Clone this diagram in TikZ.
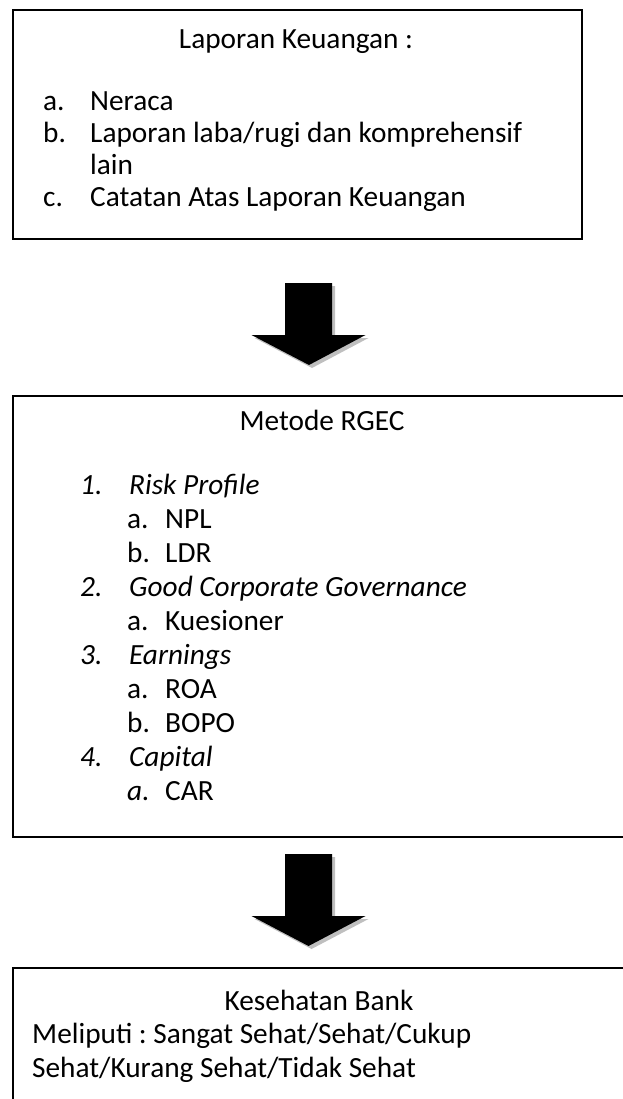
\documentclass[tikz,border=0pt]{standalone}
\usepackage{fontspec}
\setmainfont{Carlito}
\usetikzlibrary{calc,shadows}
\frenchspacing

\newcommand{\blokpanah}[2]{%
  \path[panah] let \p1=(#1), \p2=(#2) in
    (\x1-23.5pt,\y1) -- (\x1+23.5pt,\y1) -- (\x1+23.5pt,\y2+30pt)
    -- (\x1+57pt,\y2+30pt) -- (\x2,\y2) -- (\x1-57pt,\y2+30pt)
    -- (\x1-23.5pt,\y2+30pt) -- cycle;}

\begin{document}
\begin{tikzpicture}[x=1pt,y=-1pt,
    kotak/.style={draw, line width=1.6pt, anchor=north west, inner sep=0pt},
    teks/.style={anchor=base west, inner sep=0pt, font=\fontsize{29.3}{34}\selectfont},
    judul/.style={teks, anchor=base},
    panah/.style={fill=black, drop shadow={shadow xshift=3pt, shadow yshift=-3pt, fill=gray!50, opacity=1}}]
  \useasboundingbox (0,0) rectangle (622,1099);

  % kotak laporan keuangan
  \node[kotak, minimum width=569pt, minimum height=229pt] (lapkeu) at (12,9) {};
  \node[judul] (lapjudul) at (296,49) {Laporan Keuangan :};
  \node[teks] (la) at (43,111) {a.};
  \node[teks] (lat) at (90,111) {Neraca};
  \node[teks] (lb) at (43,143) {b.};
  \node[teks] (lbt) at (90,143) {Laporan laba/rugi dan komprehensif};
  \node[teks] (lbt2) at (90,175) {lain};
  \node[teks] (lc) at (43,207) {c.};
  \node[teks] (lct) at (90,207) {Catatan Atas Laporan Keuangan};

  % kotak metode RGEC
  \node[kotak, minimum width=640pt, minimum height=441pt] (rgec) at (12,395) {};
  \node[judul] (rgecjudul) at (322,430) {Metode RGEC};
  \node[teks] (r1) at (80,494) {\itshape 1.};
  \node[teks] (r1t) at (129,494) {\itshape Risk Profile};
  \node[teks] (r1a) at (127,528) {a.};
  \node[teks] (r1at) at (165,528) {NPL};
  \node[teks] (r1b) at (127,562) {b.};
  \node[teks] (r1bt) at (165,562) {LDR};
  \node[teks] (r2) at (80,596) {\itshape 2.};
  \node[teks] (r2t) at (129,596) {\itshape Good Corporate Governance};
  \node[teks] (r2a) at (127,630) {a.};
  \node[teks] (r2at) at (165,630) {Kuesioner};
  \node[teks] (r3) at (80,664) {\itshape 3.};
  \node[teks] (r3t) at (129,664) {\itshape Earnings};
  \node[teks] (r3a) at (127,698) {a.};
  \node[teks] (r3at) at (165,698) {ROA};
  \node[teks] (r3b) at (127,732) {b.};
  \node[teks] (r3bt) at (165,732) {BOPO};
  \node[teks] (r4) at (80,766) {\itshape 4.};
  \node[teks] (r4t) at (129,766) {\itshape Capital};
  \node[teks] (r4a) at (127,800) {\itshape a.};
  \node[teks] (r4at) at (165,800) {CAR};

  % kotak kesehatan bank
  \node[kotak, minimum width=640pt, minimum height=160pt] (sehat) at (12,967) {};
  \node[judul] (sehatjudul) at (319,1010) {Kesehatan Bank};
  \node[teks] (s1) at (32,1043) {Meliputi : Sangat Sehat/Sehat/Cukup};
  \node[teks] (s2) at (32,1077) {Sehat/Kurang Sehat/Tidak Sehat};

  % panah
  \coordinate (p1a) at (308.5,283);
  \coordinate (p1b) at (309,365);
  \coordinate (p2a) at (308.5,854);
  \coordinate (p2b) at (308.5,946);
  \blokpanah{p1a}{p1b}
  \blokpanah{p2a}{p2b}
\end{tikzpicture}
\end{document}
